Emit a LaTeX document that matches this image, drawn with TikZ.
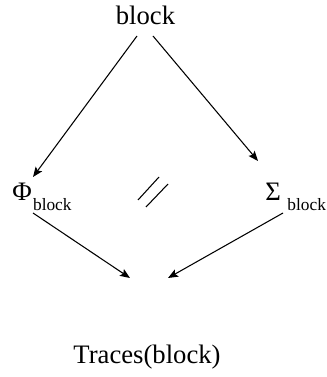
\documentclass[tikz,border=0pt]{standalone}
\usepackage{fontspec}
\setmainfont{Liberation Serif}
\usetikzlibrary{arrows.meta}

% lowered small index after a Greek letter
\newcommand{\lowidx}[1]{\raisebox{-7.5pt}{\fontsize{13}{15}\selectfont #1}}

\begin{document}
\begin{tikzpicture}[x=0.75pt,y=-0.75pt,>={Stealth[length=7.5pt,width=6pt,inset=1.5pt]},
  every node/.style={inner sep=0pt,font=\fontsize{20}{24}\selectfont}]

  \tikzstyle{arrow}=[->,line width=0.8pt]
  \tikzstyle{tick}=[line width=0.8pt]

  \useasboundingbox (0,0) rectangle (326,377);

  \node[anchor=base]      (blk) at (145.5,25) {block};
  \node[anchor=base west] (phi) at (12,200)   {Φ\hspace{1pt}\lowidx{block}};
  \node[anchor=base west] (sig) at (265,200)  {Σ\hspace{5pt}\lowidx{block}};
  \node[anchor=base]      (trc) at (147,363)  {Traces(block)};
  \coordinate (par) at (153,192);

  \draw[arrow] ([shift={(-8.5,11)}]blk.base) -- ([shift={(21,-23)}]phi.base west);
  \draw[arrow] ([shift={(7.5,11)}]blk.base)  -- ([shift={(-7,-39)}]sig.base west);
  \draw[arrow] ([shift={(21,13)}]phi.base west) -- ([shift={(-17,-85)}]trc.base);
  \draw[arrow] ([shift={(18,13)}]sig.base west) -- ([shift={(21,-85)}]trc.base);

  % the two parallel strokes between the branches
  \draw[tick] ([shift={(-15,8)}]par) -- ([shift={(6,-15)}]par);
  \draw[tick] ([shift={(-7,15)}]par) -- ([shift={(15,-8)}]par);

\end{tikzpicture}
\end{document}
